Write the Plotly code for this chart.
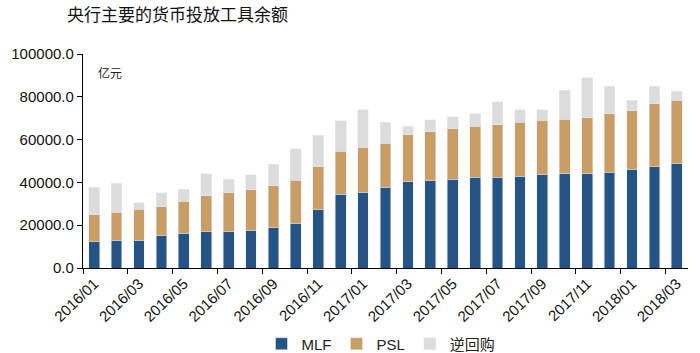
import plotly.graph_objects as go

months = ["2016/01","2016/02","2016/03","2016/04","2016/05","2016/06","2016/07","2016/08","2016/09",
          "2016/10","2016/11","2016/12","2017/01","2017/02","2017/03","2017/04","2017/05","2017/06",
          "2017/07","2017/08","2017/09","2017/10","2017/11","2017/12","2018/01","2018/02","2018/03"]

# cumulative tops
mlf_top = [12350,13000,13000,15000,16300,16900,16900,17700,18800,20800,27200,34400,35500,
           37700,40200,40800,41500,42300,42300,42900,43500,44100,44100,44700,46100,47400,48700]
psl_top = [24900,26000,27400,28600,31100,33800,35200,36500,38400,41000,47400,54600,56500,
           58400,62300,63700,65100,66200,67000,68200,69000,69600,70300,72100,73400,76700,78500]
rr_top = [37700,39600,30500,35200,36900,44000,41500,43500,48500,55700,62100,68900,74000,
          68200,66200,69300,70700,72000,77800,73900,73900,83100,88900,85000,78400,85000,82500]

mlf = mlf_top
psl = [p - m for p, m in zip(psl_top, mlf_top)]
rr = [r - p for r, p in zip(rr_top, psl_top)]

L, R, T, B = 83, 12, 54, 85
W, H = 700, 353
plot_w = W - L - R
plot_h = H - T - B

def px(x):
    return (x - L) / plot_w

def py(y):
    return 1 - (y - T) / plot_h

fig = go.Figure()
fig.add_trace(go.Bar(x=months, y=mlf, name="MLF", marker_color="#245485"))
fig.add_trace(go.Bar(x=months, y=psl, name="PSL", marker_color="#c99d63"))
fig.add_trace(go.Bar(x=months, y=rr, name="逆回购", marker_color="#dcdcdc"))

fig.update_layout(
    barmode="stack",
    bargap=0.52,
    width=W, height=H,
    margin=dict(l=L, r=R, t=T, b=B, autoexpand=False),
    paper_bgcolor="white", plot_bgcolor="white",
    font=dict(family="Liberation Sans, Arial, sans-serif", size=14, color="#222"),
    showlegend=True,
    legend=dict(orientation="h", xref="container", yref="container",
                x=381 / W, xanchor="center", y=1 - 344 / H, yanchor="middle",
                font=dict(size=15, family="Liberation Sans, Noto Sans CJK SC", color="#222"),
                itemwidth=30, traceorder="normal", tracegroupgap=0),
    annotations=[
        dict(text="央行主要的货币投放工具余额", x=px(65), y=py(14), xref="paper", yref="paper",
             showarrow=False, font=dict(size=17, family="Noto Sans CJK SC", color="#111"),
             xanchor="left", yanchor="middle"),
        dict(text="亿元", x=px(96), y=py(72), xref="paper", yref="paper", showarrow=False,
             font=dict(size=12, family="Noto Sans CJK SC", color="#222"),
             xanchor="left", yanchor="middle"),
    ],
)

fig.update_xaxes(
    type="category", tickmode="linear", dtick=2, tickson="boundaries",
    tickangle=-44, showline=True, linecolor="#000", linewidth=1.3,
    ticks="outside", ticklen=5, tickcolor="#000", showgrid=False,
    tickfont=dict(size=15, color="#111"), automargin=False,
)
fig.update_yaxes(
    range=[0, 100000], dtick=20000, tickformat=".1f",
    showline=True, linecolor="#000", linewidth=1.3,
    ticks="outside", ticklen=5, tickcolor="#000", showgrid=False, zeroline=False,
    tickfont=dict(size=15, color="#111"), automargin=False,
)

fig.write_html("out.html")
